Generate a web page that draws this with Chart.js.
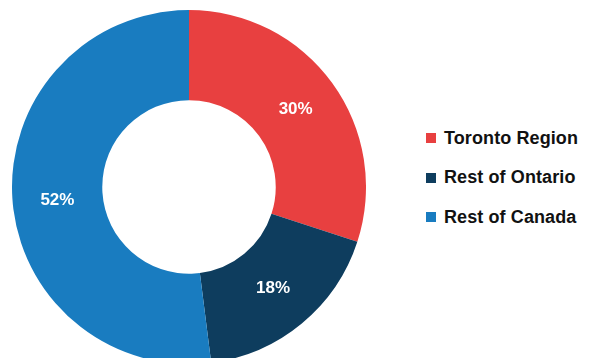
<!DOCTYPE html>
<html>
<head>
<meta charset="utf-8">
<script src="https://cdn.jsdelivr.net/npm/chart.js@4.4.0/dist/chart.umd.min.js"></script>
<style>
  html, body { margin: 0; padding: 0; background: #fff; }
  body { width: 593px; height: 358px; overflow: hidden; position: relative; font-family: "Liberation Sans", Arial, sans-serif; }
  #chartWrap { position: absolute; left: 12px; top: 10px; width: 354px; height: 354px; }
  #legend { position: absolute; left: 426px; top: 126px; list-style: none; margin: 0; padding: 0; }
  #legend li { display: flex; align-items: center; height: 24px; margin-bottom: 15.5px; font-weight: bold; font-size: 18px; letter-spacing: 0.1px; color: #111; }
  #legend .swatch { width: 10px; height: 10px; margin-right: 8px; flex: none; }
</style>
</head>
<body>
<div id="chartWrap"><canvas id="regionChart"></canvas></div>
<ul id="legend"></ul>
<script>
const regions = ['Toronto Region', 'Rest of Ontario', 'Rest of Canada'];
const shares = [30, 18, 52];
const sliceColors = ['#E84040', '#0E3D5E', '#197CC0'];

// white percentage text in the middle of each slice
const sliceLabels = {
    id: 'sliceLabels',
    afterDatasetsDraw(chart) {
        const { ctx } = chart;
        const meta = chart.getDatasetMeta(0);
        ctx.save();
        ctx.fillStyle = '#fff';
        ctx.font = 'bold 17px "Liberation Sans", Arial, sans-serif';
        ctx.textAlign = 'center';
        ctx.textBaseline = 'middle';
        meta.data.forEach((arc, i) => {
            const pos = arc.tooltipPosition();
            ctx.fillText(shares[i] + '%', pos.x, pos.y + (i === 2 ? 5 : 0));
        });
        ctx.restore();
    }
};

new Chart(document.getElementById('regionChart'), {
    type: 'doughnut',
    data: {
        labels: regions,
        datasets: [{
            data: shares,
            backgroundColor: sliceColors,
            borderWidth: 0
        }]
    },
    options: {
        responsive: true,
        maintainAspectRatio: false,
        animation: false,
        cutout: '49%',
        layout: { padding: 0 },
        plugins: {
            legend: { display: false },
            tooltip: { enabled: false }
        }
    },
    plugins: [sliceLabels]
});

const legend = document.getElementById('legend');
legend.innerHTML = regions.map((name, i) =>
    `<li><span class="swatch" style="background:${sliceColors[i]}"></span>${name}</li>`
).join('');
</script>
</body>
</html>
